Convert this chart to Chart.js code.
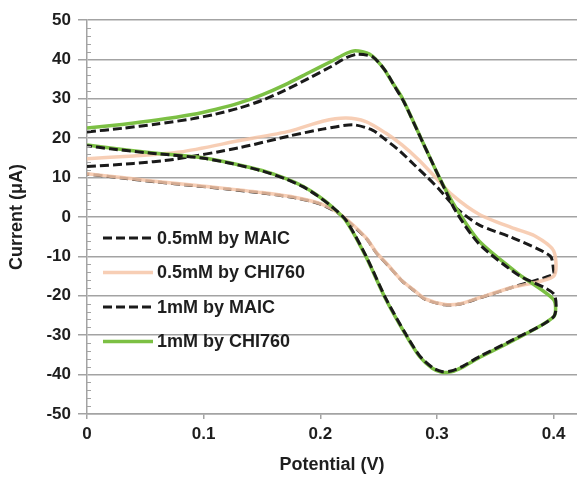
<!DOCTYPE html>
<html>
<head>
<meta charset="utf-8">
<script src="https://cdn.jsdelivr.net/npm/chart.js@4.4.1/dist/chart.umd.min.js"></script>
<style>
  html, body { margin: 0; padding: 0; background: #fff; }
  #wrap { width: 577px; height: 477px; }
</style>
</head>
<body>
<div id="wrap"><canvas id="cv" width="577" height="477"></canvas></div>
<script>
// series labels (legend order)
const seriesLabels = ['0.5mM by MAIC', '0.5mM by CHI760', '1mM by MAIC', '1mM by CHI760']

// x axis tick values (V)
const potentialTicks = [0, 0.1, 0.2, 0.3, 0.4]

// 0.5mM by MAIC - forward scan then reverse scan
const halfMaicPotential = [0, 0.04, 0.074, 0.131, 0.174, 0.202, 0.228, 0.245, 0.256, 0.268, 0.28, 0.292, 0.302, 0.316, 0.336, 0.364, 0.397, 0.4,
  0.4, 0.364, 0.336, 0.32, 0.307, 0.29, 0.28, 0.27, 0.259, 0.248, 0.239, 0.216, 0.2, 0.18, 0.15, 0.12, 0.09, 0.06, 0.03, 0]
const halfMaicCurrent = [12.8, 13.6, 14.6, 17.6, 20.6, 22.3, 23.4, 22.0, 19.6, 16.8, 13.4, 10.0, 7.0, 2.4, -2.0, -5.2, -9.9, -13.7,
  -14.6, -17.9, -20.6, -22.1, -22.3, -20.9, -18.6, -16.2, -12.6, -9.1, -5.3, 0.8, 3.3, 4.8, 6.1, 7.1, 8.0, 8.9, 9.9, 10.9]

// 0.5mM by CHI760
const halfChiPotential = [0, 0.04, 0.08, 0.131, 0.174, 0.202, 0.222, 0.239, 0.256, 0.27, 0.284, 0.298, 0.313, 0.336, 0.364, 0.384, 0.4,
  0.4, 0.364, 0.336, 0.32, 0.307, 0.29, 0.28, 0.27, 0.259, 0.248, 0.239, 0.216, 0.2, 0.18, 0.15, 0.12, 0.09, 0.06, 0.03, 0]
const halfChiCurrent = [14.8, 15.5, 16.5, 19.4, 21.8, 24.3, 25.1, 24.2, 21.3, 18.3, 14.6, 10.3, 5.6, 0.7, -2.7, -4.8, -8.6,
  -15.0, -17.9, -20.5, -22.0, -22.2, -20.8, -18.5, -16.2, -12.5, -9.0, -5.2, 0.9, 3.4, 4.9, 6.2, 7.2, 8.1, 9.0, 10.0, 11.0]

// 1mM by MAIC
const oneMaicPotential = [0, 0.03, 0.06, 0.09, 0.11, 0.13, 0.15, 0.17, 0.19, 0.21, 0.222, 0.232, 0.245, 0.256, 0.264, 0.272, 0.288, 0.303, 0.316, 0.336, 0.37, 0.4,
  0.4, 0.364, 0.336, 0.322, 0.312, 0.304, 0.296, 0.285, 0.273, 0.256, 0.239, 0.222, 0.21, 0.198, 0.185, 0.17, 0.15, 0.125, 0.1, 0.055, 0.02, 0]
const oneMaicCurrent = [21.6, 22.5, 23.6, 24.9, 26.1, 27.6, 29.6, 32.2, 35.2, 38.3, 40.4, 41.3, 40.6, 37.0, 33.0, 29.0, 18.8, 9.4, 1.5, -6.8, -14.8, -19.5,
  -25.3, -31.3, -35.5, -37.9, -39.1, -39.2, -38.2, -35.2, -29.6, -20.6, -9.8, -0.8, 2.6, 5.3, 7.7, 9.7, 11.7, 13.5, 14.9, 16.2, 17.3, 18.1]

// 1mM by CHI760
const oneChiPotential = [0, 0.03, 0.06, 0.09, 0.11, 0.13, 0.15, 0.17, 0.19, 0.21, 0.222, 0.23, 0.242, 0.253, 0.262, 0.27, 0.287, 0.302, 0.316, 0.336, 0.37, 0.4,
  0.4, 0.364, 0.336, 0.322, 0.312, 0.304, 0.296, 0.285, 0.273, 0.256, 0.239, 0.222, 0.21, 0.198, 0.185, 0.17, 0.15, 0.125, 0.1, 0.055, 0.02, 0]
const oneChiCurrent = [22.6, 23.5, 24.6, 26.0, 27.3, 28.9, 31.0, 33.6, 36.6, 39.6, 41.5, 42.2, 41.4, 38.2, 34.0, 30.3, 19.5, 10.0, 2.4, -6.1, -14.5, -21.0,
  -25.3, -31.5, -35.7, -38.1, -39.3, -39.4, -38.4, -35.4, -29.8, -20.8, -10.0, -1.0, 2.6, 5.4, 7.8, 9.8, 11.8, 13.6, 15.0, 16.3, 17.5, 18.3]

const toPoints = (xs, ys) => xs.map((x, i) => ({ x: x, y: ys[i] }))

const FONT = '"Liberation Sans", Arial, sans-serif'
const TEXT = '#1e1e1e'
const GRID = '#a3a3a3'

// minor ticks on the y axis, every 2 uA
const minorTicks = {
  id: 'minorTicks',
  afterDraw(chart) {
    const ctx = chart.ctx
    const y = chart.scales.y
    const left = chart.chartArea.left
    ctx.save()
    ctx.strokeStyle = GRID
    ctx.lineWidth = 1
    for (let v = -48; v < 50; v += 2) {
      if (v % 10 === 0) continue
      const py = Math.round(y.getPixelForValue(v)) + 0.5
      ctx.beginPath()
      ctx.moveTo(left, py)
      ctx.lineTo(left + 4, py)
      ctx.stroke()
    }
    ctx.restore()
  },
}

// legend drawn inside the plot area
const insideLegend = {
  id: 'insideLegend',
  afterDraw(chart) {
    const ctx = chart.ctx
    const x0 = chart.chartArea.left + 16
    let yy = 238
    ctx.save()
    ctx.font = 'bold 18px ' + FONT
    ctx.textBaseline = 'middle'
    chart.data.datasets.forEach((ds) => {
      ctx.strokeStyle = ds.borderColor
      ctx.lineWidth = ds.borderWidth
      ctx.setLineDash(ds.borderDash || [])
      ctx.beginPath()
      ctx.moveTo(x0, yy)
      ctx.lineTo(x0 + 50, yy)
      ctx.stroke()
      ctx.setLineDash([])
      ctx.fillStyle = TEXT
      ctx.fillText(ds.label, x0 + 54, yy + 1)
      yy += 34.5
    })
    ctx.restore()
  },
}

const dashed = [9, 4]

new Chart(document.getElementById('cv'), {
  type: 'scatter',
  data: {
    datasets: [
      { label: seriesLabels[0], data: toPoints(halfMaicPotential, halfMaicCurrent), borderColor: '#1a1a1a', borderWidth: 3, borderDash: dashed, order: 3 },
      { label: seriesLabels[1], data: toPoints(halfChiPotential, halfChiCurrent), borderColor: 'rgba(246,198,168,0.85)', borderWidth: 3.5, order: 2 },
      { label: seriesLabels[2], data: toPoints(oneMaicPotential, oneMaicCurrent), borderColor: '#1a1a1a', borderWidth: 3, borderDash: dashed, order: 0 },
      { label: seriesLabels[3], data: toPoints(oneChiPotential, oneChiCurrent), borderColor: '#7cc044', borderWidth: 3.5, order: 1 },
    ],
  },
  options: {
    responsive: false,
    animation: false,
    devicePixelRatio: 1,
    layout: { padding: { top: 20, right: 0, left: 0, bottom: 0 } },
    elements: {
      point: { radius: 0, hoverRadius: 0 },
      line: { tension: 0.25, fill: false },
    },
    datasets: { scatter: { showLine: true } },
    plugins: { legend: { display: false }, tooltip: { enabled: false } },
    scales: {
      x: {
        type: 'linear',
        min: 0,
        max: 0.42,
        afterBuildTicks: (scale) => {
          scale.ticks = potentialTicks.map((v) => ({ value: v }))
        },
        afterFit: (scale) => { scale.height = 63 },
        grid: { drawOnChartArea: false, color: GRID, tickColor: GRID, tickLength: 5, lineWidth: 1.5 },
        border: { display: true, color: GRID, width: 1.5 },
        ticks: {
          color: TEXT,
          padding: 5,
          maxRotation: 0,
          font: { family: FONT, size: 17, weight: 'bold' },
          callback: (v) => (v === 0 ? '0' : v.toFixed(1)),
        },
        title: {
          display: true,
          text: 'Potential (V)',
          color: TEXT,
          padding: { top: 0, bottom: 1 },
          font: { family: FONT, size: 18, weight: 'bold' },
        },
      },
      y: {
        min: -50,
        max: 50,
        afterFit: (scale) => { scale.width = 87 },
        grid: { color: GRID, tickColor: GRID, tickLength: 9, lineWidth: 1.5 },
        border: { display: true, color: GRID, width: 1.5 },
        ticks: {
          stepSize: 10,
          color: TEXT,
          padding: 7,
          font: { family: FONT, size: 17, weight: 'bold' },
        },
        title: {
          display: true,
          text: 'Current (μA)',
          color: TEXT,
          padding: { top: 6, bottom: 0 },
          font: { family: FONT, size: 18, weight: 'bold' },
        },
      },
    },
  },
  plugins: [minorTicks, insideLegend],
})
</script>
</body>
</html>
